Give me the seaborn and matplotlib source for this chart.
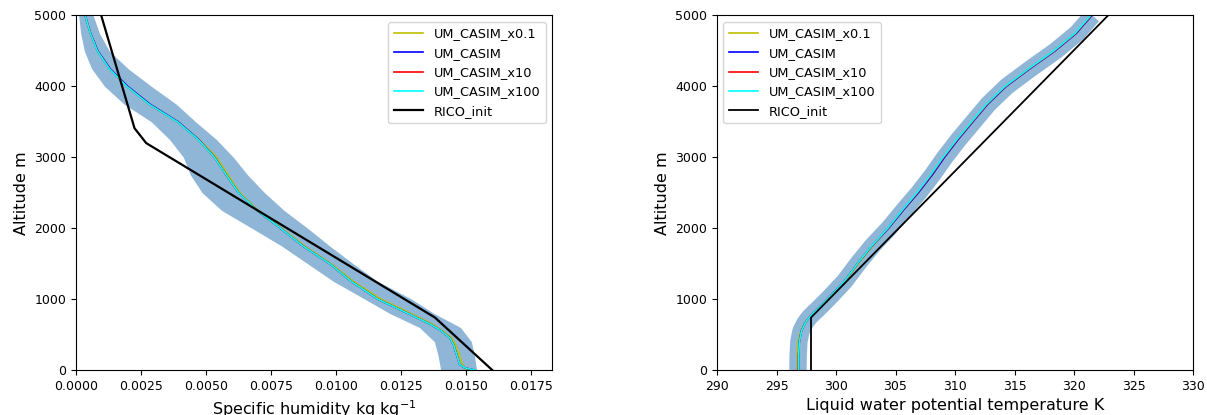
import numpy as np
import pandas as pd
import matplotlib
matplotlib.use("Agg")
import matplotlib.pyplot as plt
import seaborn as sns

# ---------------- data: specific humidity (left) ----------------
alt_q = [0, 30, 80, 200, 350, 450, 550, 650, 800, 1000, 1250, 1500, 1750, 2000,
         2250, 2500, 2750, 3000, 3250, 3500, 3750, 4000, 4250, 4500, 4750, 5000]
q_x01 = [0.01502, 0.01495, 0.01485, 0.01475, 0.01460, 0.01445, 0.01410, 0.01368, 0.01285,
         0.01172, 0.01066, 0.00980, 0.00878, 0.00790, 0.00700, 0.00630, 0.00585, 0.00540,
         0.00474, 0.00392, 0.00282, 0.00197, 0.00130, 0.00083, 0.00056, 0.00035]
q_x1 = [0.01530, 0.01494, 0.01475, 0.01465, 0.01452, 0.01438, 0.01405, 0.01360, 0.01275,
        0.01160, 0.01058, 0.00975, 0.00872, 0.00786, 0.00696, 0.00625, 0.00578, 0.00533,
        0.00472, 0.00393, 0.00284, 0.00199, 0.00131, 0.00084, 0.00056, 0.00035]
q_x10 = [0.01531, 0.01495, 0.01475, 0.01465, 0.01452, 0.01438, 0.01405, 0.01360, 0.01275,
         0.01160, 0.01058, 0.00975, 0.00872, 0.00786, 0.00696, 0.00625, 0.00578, 0.00532,
         0.00470, 0.00390, 0.00280, 0.00195, 0.00128, 0.00082, 0.00055, 0.00035]
q_x100 = [0.01532, 0.01495, 0.01475, 0.01465, 0.01452, 0.01438, 0.01405, 0.01360, 0.01275,
          0.01160, 0.01058, 0.00975, 0.00872, 0.00786, 0.00696, 0.00625, 0.00578, 0.00532,
          0.00470, 0.00390, 0.00280, 0.00195, 0.00128, 0.00082, 0.00055, 0.00035]

alt_band = [0, 200, 400, 600, 800, 1000, 1250, 1500, 1750, 2000, 2250, 2500, 2750,
            3000, 3250, 3500, 3750, 4000, 4250, 4500, 4750, 5000]
q_low = [0.01402, 0.01392, 0.01378, 0.01320, 0.01205, 0.01110, 0.00990, 0.00890, 0.00790,
         0.00676, 0.00560, 0.00485, 0.00440, 0.00413, 0.00360, 0.00290, 0.00185, 0.00110,
         0.00060, 0.00032, 0.00018, 0.00010]
q_high = [0.01540, 0.01532, 0.01520, 0.01478, 0.01375, 0.01290, 0.01160, 0.01065, 0.00975,
          0.00890, 0.00800, 0.00725, 0.00660, 0.00605, 0.00540, 0.00460, 0.00385, 0.00290,
          0.00200, 0.00128, 0.00090, 0.00066]

alt_rico_q = [0, 740, 3200, 3410, 5000]
q_rico = [0.0160, 0.0138, 0.0027, 0.00225, 0.00097]

# ---------------- data: liquid water potential temperature (right) ----------------
alt_t = [0, 200, 400, 550, 650, 700, 750, 800, 850, 1000, 1250, 1500, 1750, 2000, 2250, 2500,
         2750, 3000, 3250, 3500, 3750, 4000, 4250, 4500, 4750, 5000]
th_x01 = [296.72, 296.74, 296.82, 297.04, 297.34, 297.56, 297.82, 298.12, 298.45, 299.36,
          300.76, 301.88, 303.08, 304.42, 305.62, 306.86, 308.00, 309.05, 310.20, 311.45,
          312.70, 314.25, 316.25, 318.35, 320.15, 321.45]
th_x1 = [296.84, 296.85, 296.91, 297.09, 297.37, 297.56, 297.80, 298.08, 298.40, 299.30,
         300.70, 301.81, 303.03, 304.42, 305.64, 306.92, 308.08, 309.12, 310.26, 311.50,
         312.75, 314.30, 316.30, 318.40, 320.20, 321.50]
th_x10 = [296.85, 296.86, 296.92, 297.10, 297.38, 297.56, 297.80, 298.08, 298.40, 299.30,
          300.70, 301.80, 303.01, 304.37, 305.58, 306.85, 308.00, 309.05, 310.20, 311.45,
          312.70, 314.25, 316.25, 318.35, 320.15, 321.45]
th_x100 = [296.85, 296.86, 296.92, 297.10, 297.38, 297.56, 297.80, 298.08, 298.40, 299.30,
           300.70, 301.80, 303.00, 304.35, 305.55, 306.80, 307.95, 309.00, 310.15, 311.40,
           312.65, 314.20, 316.20, 318.30, 320.10, 321.40]
th_band = [296.80, 296.82, 296.88, 297.06, 297.36, 297.56, 297.80, 298.10, 298.42, 299.32,
           300.72, 301.84, 303.05, 304.45, 305.68, 306.95, 308.10, 309.15, 310.30, 311.55,
           312.80, 314.35, 316.35, 318.45, 320.25, 321.55]

alt_rico_t = [0, 740, 5000]
th_rico = [297.9, 297.9, 322.86]

series_labels = ["UM_CASIM_x0.1", "UM_CASIM", "UM_CASIM_x10", "UM_CASIM_x100", "RICO_init"]
series_colors = ["y", "b", "r", "cyan", "k"]
band_color = "#8fb6d6"

# ---------------- figure ----------------
fig = plt.figure(figsize=(12.07, 4.15), dpi=100)
ax1 = fig.add_axes([76 / 1207, 45 / 415, 476 / 1207, 354.5 / 415])
ax2 = fig.add_axes([717 / 1207, 45 / 415, 476 / 1207, 354.5 / 415])

leg_kw = dict(fontsize=9.3, handlelength=2.3)

# Left panel
ax1.fill_betweenx(alt_band, q_low, q_high, color=band_color, lw=0)
for arr, lab, col in zip([q_x01, q_x1, q_x10, q_x100], series_labels[:4], series_colors[:4]):
    sns.lineplot(x=arr, y=alt_q, orient="y", ax=ax1, color=col, lw=1.2, label=lab)
sns.lineplot(x=q_rico, y=alt_rico_q, orient="y", ax=ax1, color="k", lw=1.6, label=series_labels[4])
ax1.set_xlim(0, 0.0183)
ax1.set_ylim(0, 5000)
ax1.set_xticks([0.0, 0.0025, 0.005, 0.0075, 0.01, 0.0125, 0.015, 0.0175])
ax1.set_xticklabels(["0.0000", "0.0025", "0.0050", "0.0075", "0.0100", "0.0125", "0.0150", "0.0175"])
ax1.set_yticks([0, 1000, 2000, 3000, 4000, 5000])
ax1.set_xlabel("Specific humidity kg kg$^{-1}$", fontsize=11.5)
ax1.set_ylabel("Altitude m", fontsize=11.5)
ax1.legend(loc="upper right", **leg_kw)

# Right panel
sns.lineplot(x=th_band, y=alt_t, orient="y", ax=ax2, color=band_color, lw=12.5,
             solid_capstyle="butt", legend=False)
for arr, lab, col in zip([th_x01, th_x1, th_x10, th_x100], series_labels[:4], series_colors[:4]):
    sns.lineplot(x=arr, y=alt_t, orient="y", ax=ax2, color=col, lw=1.2, label=lab)
sns.lineplot(x=th_rico, y=alt_rico_t, orient="y", ax=ax2, color="k", lw=1.3, label=series_labels[4])
ax2.set_xlim(290, 330)
ax2.set_ylim(0, 5000)
ax2.set_xticks(list(range(290, 331, 5)))
ax2.set_yticks([0, 1000, 2000, 3000, 4000, 5000])
ax2.set_xlabel("Liquid water potential temperature K", fontsize=11.5)
ax2.set_ylabel("Altitude m", fontsize=11.5)
ax2.legend(loc="upper left", **leg_kw)

for ax in (ax1, ax2):
    ax.tick_params(labelsize=9)

fig.savefig("out.png", dpi=100)
